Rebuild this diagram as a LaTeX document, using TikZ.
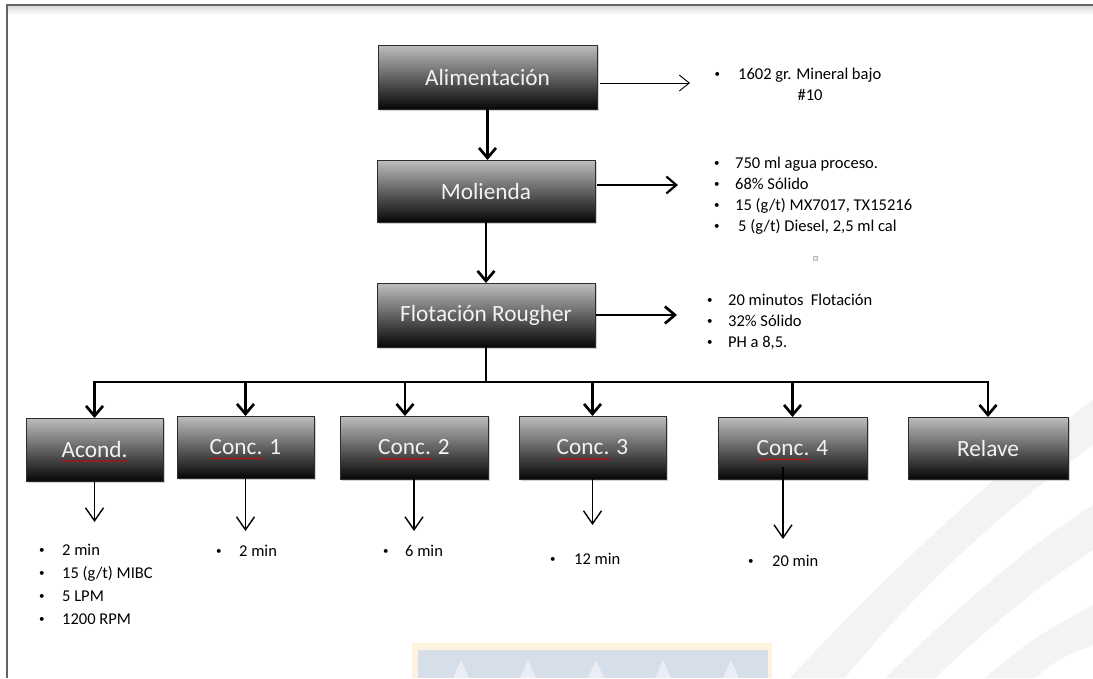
\documentclass[tikz,border=0pt]{standalone}
\usepackage{fontspec}
\setmainfont{Carlito}
\usetikzlibrary{arrows.meta,shadows,decorations.pathmorphing}
\definecolor{boxtop}{RGB}{190,190,190}
\definecolor{boxbot}{RGB}{6,6,6}
\definecolor{boxline}{RGB}{45,45,45}
\definecolor{boxtext}{RGB}{242,242,242}
\definecolor{frameline}{RGB}{100,100,100}
\definecolor{wmgrey}{RGB}{243,243,243}
\definecolor{wmyel}{RGB}{253,243,222}
\definecolor{wmblue}{RGB}{214,222,233}
\definecolor{wmpeak}{RGB}{234,238,244}
\newcommand\bul[2]{\llap{\raisebox{1.6pt}{\fontsize{11}{11}\selectfont\textbullet}\hspace{#1pt}}#2}
\begin{document}
\begin{tikzpicture}[x=1pt,y=-1pt,
  box/.style={draw=boxline, line width=0.8pt, top color=boxtop, bottom color=boxbot,
    inner sep=0pt, outer sep=0pt, text=boxtext, font=\fontsize{23.3}{26}\selectfont,
    drop shadow={shadow xshift=2pt,shadow yshift=-2pt,opacity=0.35}},
  lst/.style={anchor=base west, inner sep=0pt, text=black, font=\fontsize{16.5}{20}\selectfont},
  thickarr/.style={line width=2.7pt, -{Straight Barb[length=10pt,width=17pt]}},
  medarr/.style={line width=2.2pt, -{Straight Barb[length=10pt,width=17pt]}},
  thinarr/.style={line width=0.9pt, -{Straight Barb[length=10pt,width=16pt]}},
  botarr/.style={line width=1.4pt, -{Straight Barb[length=13pt,width=18pt]}},
  busline/.style={line width=2.7pt, line cap=rect},
  squig/.style={draw=red!85!black, line width=0.6pt, decorate,
    decoration={snake, segment length=3pt, amplitude=0.7pt}}
]
\useasboundingbox (0,0) rectangle (1093,678);
\fill[white] (0,0) rectangle (1093,678);
% watermark
\fill[wmgrey] (790,678) .. controls (900,560) and (1000,470) .. (1093,400) -- (1093,445) .. controls (1010,505) and (920,585) .. (845,678) -- cycle;
\fill[wmgrey] (885,678) .. controls (965,600) and (1030,545) .. (1093,505) -- (1093,550) .. controls (1040,585) and (985,630) .. (935,678) -- cycle;
\fill[wmgrey] (985,678) .. controls (1030,640) .. (1093,605) -- (1093,645) .. controls (1060,658) .. (1035,678) -- cycle;
\fill[wmyel] (412,643) rectangle (772,678);
\fill[wmblue] (418,650) rectangle (768,678);
\foreach \px in {461,528,596,663,731}{\fill[wmpeak] (\px-8,678) -- (\px,660) -- (\px+8,678) -- cycle;}
% frame
\shade[top color=black!14, bottom color=white] (7,6) rectangle (1093,15);
\draw[frameline, line width=1.3pt] (1093,5) -- (7,5) -- (7,678);
% boxes
\node[box, minimum width=219pt, minimum height=64pt] (alim) at (487.5,77) {Alimentación};
\node[box, minimum width=218pt, minimum height=62pt] (mol) at (486,191) {Molienda};
\node[box, minimum width=218pt, minimum height=64pt] (flot) at (486,315) {Flotación Rougher};
\node[box, minimum width=137pt, minimum height=63pt] (acond) at (94.5,449.5) {Acond.};
\node[box, minimum width=137pt, minimum height=62pt] (c1) at (245.5,447) {Conc. 1};
\node[box, minimum width=148pt, minimum height=63pt] (c2) at (414,447.5) {Conc. 2};
\node[box, minimum width=147pt, minimum height=63pt] (c3) at (592.5,447.5) {Conc. 3};
\node[box, minimum width=149pt, minimum height=62pt] (c4) at (792.5,448) {Conc. 4};
\node[box, minimum width=160pt, minimum height=62pt] (relave) at (988,448) {Relave};
% spell-check marks
\draw[squig] ([xshift=-33pt,yshift=-11.5pt]acond.center) -- ([xshift=33pt,yshift=-11.5pt]acond.center);
\foreach \n in {c1,c2,c3,c4}{\draw[squig] ([xshift=-35pt,yshift=-11.5pt]\n.center) -- ([xshift=18pt,yshift=-11.5pt]\n.center);}
% side lists
\coordinate (alimtip) at (690,83);
\coordinate (moltip) at (678,185);
\coordinate (flottip) at (677,315);
\node[lst] (a1) at (738,79) {\bul{18}{1602 gr. Mineral bajo}};
\node[lst, anchor=base] (a2) at (810,100) {\#10};
\node[lst] (m1) at (735,168) {\bul{15.5}{750 ml agua proceso.}};
\node[lst] (m2) at (735,189) {\bul{15.5}{68\% Sólido}};
\node[lst] (m3) at (735,210) {\bul{15.5}{15 (g/t) MX7017, TX15216}};
\node[lst] (m4) at (738,231) {\bul{18.5}{5 (g/t) Diesel, 2,5 ml cal}};
\node[draw=gray!55, fill=gray!18, minimum size=4pt, inner sep=0pt] (mark) at (815,258) {};
\node[lst] (f1) at (728,305) {\bul{15.5}{20 minutos\ \ Flotación}};
\node[lst] (f2) at (728,326) {\bul{15.5}{32\% Sólido}};
\node[lst] (f3) at (728,347) {\bul{15.5}{PH a 8,5.}};
% main flow
\draw[thinarr] ([xshift=3pt,yshift=-6pt]alim.east) -- (alimtip);
\draw[medarr] ([xshift=2pt,yshift=6pt]mol.east) -- (moltip);
\draw[thickarr] ([xshift=1pt]flot.east) -- (flottip);
\draw[thickarr] (alim.south) -- (alim.south |- mol.north);
\draw[thickarr] (mol.south) -- (mol.south |- flot.north);
% bus
\coordinate (busL) at (94.5,382);
\coordinate (busR) at (988,382);
\draw[busline] (flot.south) -- (flot.south |- busL);
\draw[busline] (busL) -- (busR);
\draw[thickarr] (busL) -- (acond.north);
\draw[thickarr] (c1.north |- busL) -- (c1.north);
\draw[thickarr] ([xshift=-9pt]c2.north |- busL) -- ([xshift=-9pt]c2.north);
\draw[thickarr] (c3.north |- busL) -- (c3.north);
\draw[thickarr] (c4.north |- busL) -- (c4.north);
\draw[thickarr] (busR) -- (relave.north);
% bottom arrows
\coordinate (tA) at (94.5,522);
\coordinate (t1) at (245.5,531);
\coordinate (t2) at (414,531);
\coordinate (t3) at (592.5,525);
\coordinate (t4) at (783,539);
\draw[botarr] (acond.south) -- (tA);
\draw[botarr] (c1.south) -- (t1);
\draw[botarr] (c2.south) -- (t2);
\draw[botarr] (c3.south) -- (t3);
\draw[botarr] ([xshift=-9.5pt,yshift=12pt]c4.south) -- (t4);
% bottom lists
\node[lst] (b1) at (62,555) {\bul{17.5}{2 min}};
\node[lst] (b2) at (62,578) {\bul{17.5}{15 (g/t) MIBC}};
\node[lst] (b3) at (62,601) {\bul{17.5}{5 LPM}};
\node[lst] (b4) at (62,624) {\bul{17.5}{1200 RPM}};
\node[lst] (k1) at (239,556) {\bul{17.5}{2 min}};
\node[lst] (k2) at (405,556) {\bul{16.5}{6 min}};
\node[lst] (k3) at (574,564) {\bul{18.5}{12 min}};
\node[lst] (k4) at (772,566) {\bul{18.5}{20 min}};
\end{tikzpicture}
\end{document}
